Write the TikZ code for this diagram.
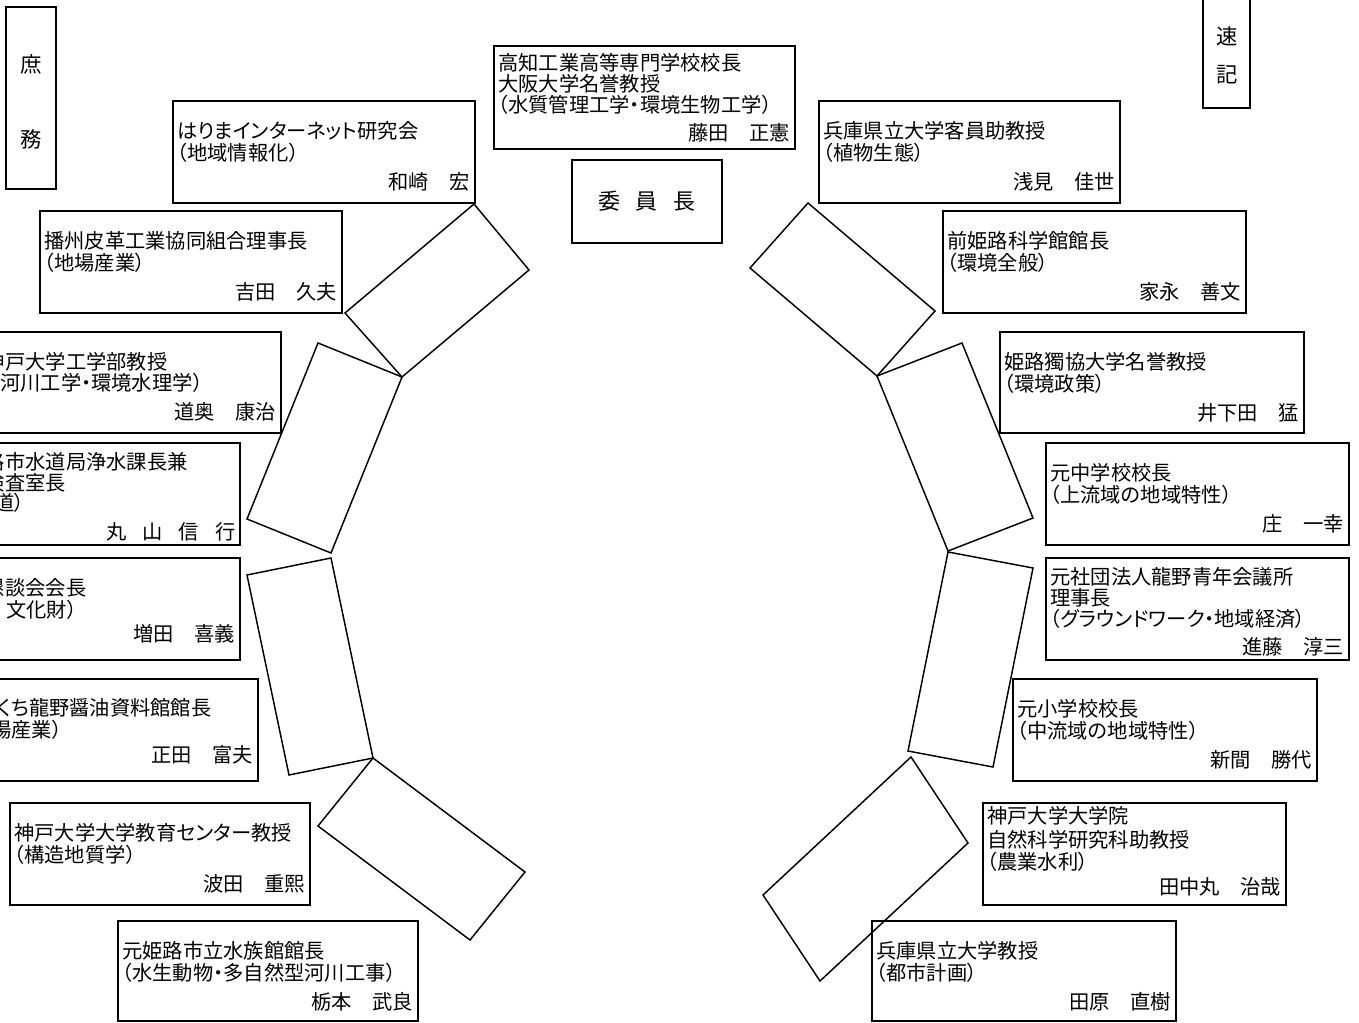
\documentclass[tikz,border=0pt]{standalone}
\usepackage{fontspec}
\setmainfont{Noto Sans CJK JP}[RawFeature={+palt}]
\usetikzlibrary{calc}
\newcommand\fs{\fontsize{15.2pt}{18pt}\selectfont}
% box with two text lines and a right-aligned person name
\newcommand\twobox[8]{%
  \node[bx, minimum width={((#4)-(#2))*0.75pt}, minimum height={((#5)-(#3))*0.75pt}] (#1) at ({((#2)+(#4))/2},{((#3)+(#5))/2}) {};
  \node[ln] (#1-a) at ($(#1.north west)+(4,30)$) {#6};
  \node[ln] (#1-b) at ($(#1.north west)+(4,52)$) {#7};
  \node[nm] (#1-n) at ($(#1.north east)+(-5,81)$) {#8};
}
\newcommand\plainbox[5]{%
  \node[bx, minimum width={((#4)-(#2))*0.75pt}, minimum height={((#5)-(#3))*0.75pt}] (#1) at ({((#2)+(#4))/2},{((#3)+(#5))/2}) {};
}
\newcommand\sep{\hspace{1em}}
\begin{document}
\begin{tikzpicture}[x=0.75pt,y=-0.75pt,
  bx/.style={draw, line width=1.1pt, inner sep=0pt, outer sep=0pt},
  ln/.style={inner sep=0pt, anchor=west, font=\fs, text height=13.3pt, text depth=1.9pt},
  nm/.style={ln, anchor=east},
  vt/.style={inner sep=0pt, font=\fontsize{16pt}{18pt}\selectfont, text height=14pt, text depth=2pt},
  tbl/.style={draw, line width=1.1pt, line join=miter}]
\useasboundingbox (0,0) rectangle (1359,1023);
\clip (0,0) rectangle (1359,1023);

% ---------- side boxes ----------
\plainbox{shomu}{6}{7}{56}{189}
\node[vt] (shomu-a) at (31,65) {庶};
\node[vt] (shomu-b) at (31,140) {務};

\plainbox{sokki}{1203}{-5}{1250}{108}
\node[vt] (sokki-a) at (1227,37) {速};
\node[vt] (sokki-b) at (1227,75) {記};

% ---------- centre ----------
\plainbox{kochi}{494}{46}{795}{149}
\node[ln] (kochi-a) at (498,63) {高知工業高等専門学校校長};
\node[ln] (kochi-b) at (498,84) {大阪大学名誉教授};
\node[ln] (kochi-c) at (498,105) {（水質管理工学・環境生物工学）};
\node[nm] (kochi-n) at (790,133) {藤田\sep 正憲};

\node[bx, minimum width=150*0.75pt, minimum height=83*0.75pt,
      font=\fontsize{16.5pt}{18pt}\selectfont] (chair) at (647,201.5)
      {委\hspace{0.7em}員\hspace{0.7em}長};

% ---------- left column ----------
\twobox{harima}{173}{101}{475}{203}{はりまインターネット研究会}{（地域情報化）}{和崎\sep 宏}
\twobox{banshu}{40}{211}{342}{313}{播州皮革工業協同組合理事長}{（地場産業）}{吉田\sep 久夫}

\plainbox{kobeko}{-21}{332}{281}{433}
\node[ln] (kobeko-a) at (5,362) {\llap{神}戸大学工学部教授};
\node[ln] (kobeko-b) at (0,383) {\llap{（}河川工学・環境水理学）};
\node[nm] (kobeko-n) at (276,412) {道奥\sep 康治};

\plainbox{himesui}{-62}{443}{240}{545}
\node[ln] (himesui-a) at (5,462) {\llap{元姫路}市水道局浄水課長兼};
\node[ln] (himesui-b) at (5,483) {\llap{水質検}査室長};
\node[ln] (himesui-c) at (-6,503) {\llap{（水}道）};
\node[nm] (himesui-n) at (236,532) {丸\hspace{0.8em}山\hspace{0.8em}信\hspace{0.8em}行};

\plainbox{kondan}{-62}{558}{240}{660}
\node[ln] (kondan-a) at (5,588) {\llap{郷土史懇}談会会長};
\node[ln] (kondan-b) at (6,610) {\llap{（歴史\hspace{0.6em}}文化財）};
\node[nm] (kondan-n) at (235,634) {増田\sep 喜義};

\plainbox{usukuchi}{-44}{679}{258}{781}
\node[ln] (usukuchi-a) at (-3,708) {\llap{うす}くち龍野醤油資料館館長};
\node[ln] (usukuchi-b) at (-9,730) {\llap{（地}場産業）};
\node[nm] (usukuchi-n) at (253,755) {正田\sep 富夫};

\twobox{kobekyo}{10}{803}{310}{905}{神戸大学大学教育センター教授}{（構造地質学）}{波田\sep 重熙}
\twobox{suizoku}{118}{921}{418}{1021}{元姫路市立水族館館長}{（水生動物・多自然型河川工事）}{栃本\sep 武良}

% ---------- right column ----------
\twobox{hyogoa}{819}{101}{1120}{203}{兵庫県立大学客員助教授}{（植物生態）}{浅見\sep 佳世}
\twobox{kagaku}{943}{211}{1246}{313}{前姫路科学館館長}{（環境全般）}{家永\sep 善文}
\twobox{dokkyo}{1000}{332}{1304}{433}{姫路獨協大学名誉教授}{（環境政策）}{井下田\sep 猛}
\twobox{chugaku}{1046}{443}{1349}{545}{元中学校校長}{（上流域の地域特性）}{庄\sep 一幸}

\plainbox{shadan}{1046}{558}{1349}{660}
\node[ln] (shadan-a) at (1050,577) {元社団法人龍野青年会議所};
\node[ln] (shadan-b) at (1050,598) {理事長};
\node[ln] (shadan-c) at (1050,619) {（グラウンドワーク・地域経済）};
\node[nm] (shadan-n) at (1344,647) {進藤\sep 淳三};

\twobox{shogaku}{1013}{679}{1317}{781}{元小学校校長}{（中流域の地域特性）}{新間\sep 勝代}

\plainbox{kobein}{983}{803}{1286}{905}
\node[ln] (kobein-a) at (987,816) {神戸大学大学院};
\node[ln] (kobein-b) at (987,840) {自然科学研究科助教授};
\node[ln] (kobein-c) at (987,862) {（農業水利）};
\node[nm] (kobein-n) at (1281,887) {田中丸\sep 治哉};

\twobox{hyogob}{872}{921}{1176}{1021}{兵庫県立大学教授}{（都市計画）}{田原\sep 直樹}

% ---------- tables ----------
\draw[tbl] (474,204) -- (529,270) -- (402,377) -- (345,313) -- cycle;
\draw[tbl] (318,343) -- (402,377) -- (331,553) -- (247,519) -- cycle;
\draw[tbl] (247,575) -- (331,558) -- (373,758) -- (289,775) -- cycle;
\draw[tbl] (373,758) -- (525,872) -- (470,940) -- (318,826) -- cycle;
\draw[tbl] (808,203) -- (935,311) -- (877,376) -- (750,268) -- cycle;
\draw[tbl] (877,376) -- (962,343) -- (1033,518) -- (948,551) -- cycle;
\draw[tbl] (948,552) -- (1033,568) -- (993,767) -- (908,751) -- cycle;
\draw[tbl] (911,757) -- (968,843) -- (820,981) -- (763,895) -- cycle;
\end{tikzpicture}
\end{document}
